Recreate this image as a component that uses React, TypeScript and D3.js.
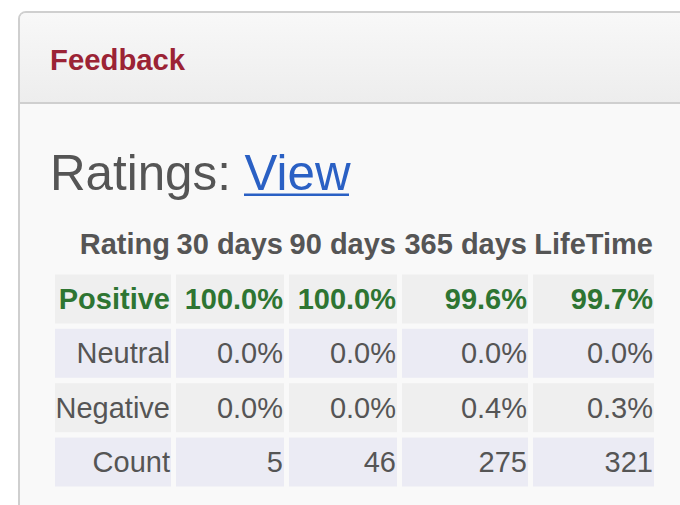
import React from "react";
import * as d3 from "d3";

const rowLabels = ["Positive", "Neutral", "Negative", "Count"];
const periods = ["30 days", "90 days", "365 days", "LifeTime"];
const positive = [100.0, 100.0, 99.6, 99.7];
const neutral = [0.0, 0.0, 0.0, 0.0];
const negative = [0.0, 0.0, 0.4, 0.3];
const counts = [5, 46, 275, 321];

const W = 680;
const H = 505;
const FONT = "'Liberation Sans', Arial, sans-serif";
const TEXT = "#555555";
const GREEN = "#2e7532";
const RED = "#9b2335";
const LINK = "#2a60c4";

// column edges (left) and widths
const colLeft = [55, 176, 289, 402, 533];
const colWidth = [116, 108, 108, 126, 121];

export default function App() {
  const y = d3
    .scaleBand<string>()
    .domain(rowLabels)
    .range([274.5, 486.5])
    .paddingInner(0.1)
    .paddingOuter(0);

  const pct = d3.format(".1f");
  const values: Record<string, string[]> = {
    Positive: positive.map((v) => pct(v) + "%"),
    Neutral: neutral.map((v) => pct(v) + "%"),
    Negative: negative.map((v) => pct(v) + "%"),
    Count: counts.map((v) => d3.format("d")(v)),
  };
  const rowFill: Record<string, string> = {
    Positive: "#efefef",
    Neutral: "#ebebf4",
    Negative: "#efefef",
    Count: "#ebebf4",
  };

  const fs = 29;
  const headerBaseline = 254;

  return (
    <svg
      width={W}
      height={H}
      style={{ position: "absolute", left: 0, top: 0, background: "#ffffff" }}
    >
      <defs>
        <linearGradient id="hdr" x1="0" y1="0" x2="0" y2="1">
          <stop offset="0%" stopColor="#f8f8f8" />
          <stop offset="100%" stopColor="#ededed" />
        </linearGradient>
      </defs>
      <rect x={0} y={0} width={W} height={H} fill="#ffffff" />
      {/* panel */}
      <rect x={19} y={12} width={720} height={560} rx={7} fill="#f9f9f9" stroke="#cfcfcf" strokeWidth={2} />
      <path d="M20,103 L20,19 Q20,13 26,13 L720,13 L720,103 Z" fill="url(#hdr)" />
      <line x1={20} x2={720} y1={103} y2={103} stroke="#cfcfcf" strokeWidth={2} />
      <text x={50} y={70} fontFamily={FONT} fontWeight="bold" fontSize={29.3} fill={RED}>
        Feedback
      </text>
      {/* Ratings: View */}
      <text x={50} y={190} fontFamily={FONT} fontSize={49.3} fill={TEXT}>
        Ratings:{" "}
        <tspan fill={LINK}>View</tspan>
      </text>
      <line x1={244} x2={349} y1={194.8} y2={194.8} stroke={LINK} strokeWidth={2.5} />
      {/* header */}
      <text
        x={colLeft[0] + colWidth[0] - 1}
        y={headerBaseline}
        textAnchor="end"
        fontFamily={FONT}
        fontWeight="bold"
        fontSize={fs}
        fill={TEXT}
      >
        Rating
      </text>
      {periods.map((p, i) => (
        <text
          key={p}
          x={colLeft[i + 1] + colWidth[i + 1] - 1}
          y={headerBaseline}
          textAnchor="end"
          fontFamily={FONT}
          fontWeight="bold"
          fontSize={fs}
          fill={TEXT}
        >
          {p}
        </text>
      ))}
      {/* rows */}
      {rowLabels.map((r) => {
        const top = y(r)!;
        const bw = y.bandwidth();
        const base = top + bw / 2 + fs * 0.35;
        const isPos = r === "Positive";
        const cells = [r, ...values[r]];
        return (
          <g key={r}>
            {cells.map((c, i) => (
              <g key={i}>
                <rect x={colLeft[i]} y={top} width={colWidth[i]} height={bw} fill={rowFill[r]} />
                <text
                  x={colLeft[i] + colWidth[i] - 1}
                  y={base}
                  textAnchor="end"
                  fontFamily={FONT}
                  fontWeight={isPos ? "bold" : "normal"}
                  fontSize={fs}
                  fill={isPos ? GREEN : TEXT}
                >
                  {c}
                </text>
              </g>
            ))}
          </g>
        );
      })}
    </svg>
  );
}
